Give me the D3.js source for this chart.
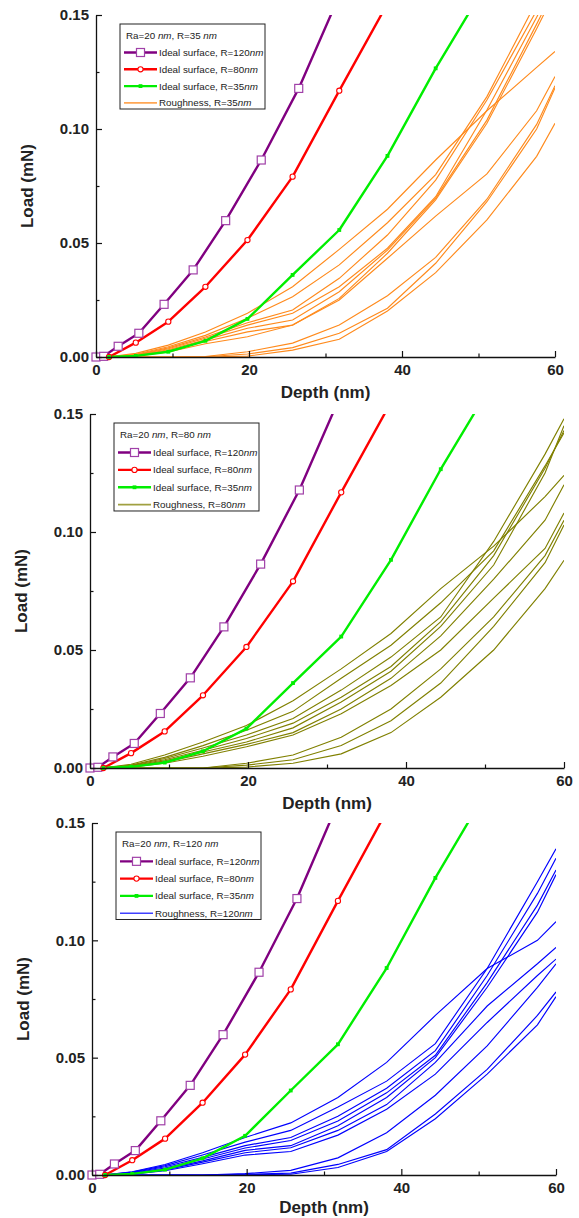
<!DOCTYPE html>
<html>
<head>
<meta charset="utf-8">
<script src="https://cdn.jsdelivr.net/npm/d3@7"></script>
<style>
  html, body { margin: 0; padding: 0; background: #fff; }
  svg { display: block; font-family: "Liberation Sans", Arial, sans-serif; }
</style>
</head>
<body>
<svg id="chart" width="579" height="1218"></svg>
<script>
// Ideal-surface load–depth curves (depth in nm, load in mN)
const depthR120 = [0, 1.0, 2.9, 5.6, 8.9, 12.7, 16.95, 21.6, 26.5, 32.0];
const loadR120  = [0, 0.0003, 0.0047, 0.0104, 0.0231, 0.0382, 0.0598, 0.0864, 0.1178, 0.1600];

const depthR80 = [1.7, 5.2, 9.45, 14.3, 19.8, 25.7, 31.8, 38.1];
const loadR80  = [0, 0.0063, 0.0155, 0.0308, 0.0513, 0.0791, 0.1168, 0.1550];

const depthR35 = [1.7, 5.2, 9.45, 14.3, 19.8, 25.7, 31.8, 38.1, 44.4, 51.1];
const loadR35  = [0, 0.0005, 0.0023, 0.0071, 0.0167, 0.0360, 0.0557, 0.0882, 0.1266, 0.1640];

// Rough-surface simulations share one depth grid
const depthRough = [1.5, 5.2, 9.45, 14.3, 19.8, 25.7, 31.8, 38.1, 44.4, 51.1, 57.6, 60];

const roughR35 = [
  [0, .0016, .0052, .0110, .0192, .0308, .0472, .0648, .0864, .1080, .1270, .1340],
  [0, .0012, .0045, .0095, .0170, .0264, .0404, .0589, .0800, .1142, .1560, .1720],
  [0, .0010, .0040, .0088, .0150, .0206, .0345, .0535, .0776, .1127, .1520, .1680],
  [0, .0008, .0036, .0082, .0140, .0192, .0308, .0477, .0703, .1083, .1490, .1650],
  [0, .0006, .0032, .0075, .0126, .0162, .0286, .0469, .0697, .1039, .1460, .1620],
  [0, .0005, .0028, .0068, .0110, .0140, .0257, .0455, .0689, .1025, .1440, .1600],
  [0, .0004, .0022, .0058, .0089, .0140, .0250, .0433, .0618, .0803, .1080, .1230],
  [0, 0, 0, .0002, .0023, .0061, .0140, .0269, .0437, .0692, .1020, .1190],
  [0, 0, 0, .0001, .0013, .0041, .0104, .0214, .0411, .0681, .1000, .1180],
  [0, 0, 0, 0, .0004, .0030, .0078, .0202, .0370, .0601, .0880, .1025]
];

const roughR80 = [
  [0, .0016, .0055, .0110, .0180, .0285, .0420, .0570, .0760, .0940, .1150, .1240],
  [0, .0012, .0045, .0095, .0160, .0240, .0380, .0520, .0700, .0920, .1280, .1420],
  [0, .0010, .0040, .0085, .0140, .0210, .0330, .0470, .0640, .0960, .1330, .1480],
  [0, .0008, .0035, .0075, .0125, .0190, .0300, .0430, .0620, .0900, .1270, .1430],
  [0, .0006, .0030, .0068, .0110, .0170, .0280, .0410, .0600, .0860, .1250, .1450],
  [0, .0005, .0025, .0060, .0100, .0150, .0250, .0380, .0560, .0800, .1050, .1200],
  [0, .0004, .0020, .0050, .0090, .0140, .0230, .0350, .0500, .0720, .0930, .1080],
  [0, 0, 0, 0, .0020, .0055, .0130, .0250, .0420, .0640, .0900, .1050],
  [0, 0, 0, 0, .0012, .0035, .0095, .0200, .0360, .0600, .0870, .1030],
  [0, 0, 0, 0, .0004, .0020, .0060, .0150, .0300, .0500, .0760, .0880]
];

const roughR120 = [
  [0, .0014, .0045, .0095, .0160, .0222, .0330, .0480, .0680, .0880, .1000, .1080],
  [0, .0012, .0040, .0085, .0140, .0190, .0290, .0400, .0560, .0880, .1250, .1390],
  [0, .0010, .0035, .0075, .0125, .0160, .0250, .0370, .0530, .0850, .1200, .1350],
  [0, .0008, .0030, .0068, .0115, .0147, .0230, .0350, .0510, .0820, .1150, .1300],
  [0, .0006, .0025, .0060, .0105, .0125, .0210, .0330, .0500, .0800, .1120, .1280],
  [0, .0005, .0022, .0055, .0095, .0116, .0190, .0300, .0480, .0720, .0900, .0970],
  [0, .0004, .0018, .0048, .0085, .0100, .0170, .0280, .0430, .0650, .0850, .0920],
  [0, 0, 0, 0, .0006, .0020, .0073, .0180, .0340, .0550, .0800, .0900],
  [0, 0, 0, 0, .0003, .0008, .0045, .0108, .0260, .0450, .0680, .0780],
  [0, 0, 0, 0, .0001, .0003, .0032, .0100, .0240, .0430, .0640, .0760]
];

const xTicks = [0, 20, 40, 60];
const xMinor = [10, 30, 50];
const yTicks = [0, 0.05, 0.10, 0.15];
const yMinor = [0.025, 0.075, 0.125];

const panels = [
  { R: "35",  rough: roughR35,  color: "#ff8a1c", left: 96, right: 555, top: 15,  bottom: 357, titleGap: 41 },
  { R: "80",  rough: roughR80,  color: "#808000", left: 90, right: 564, top: 414, bottom: 768, titleGap: 41 },
  { R: "120", rough: roughR120, color: "#0000ff", left: 92, right: 556, top: 823, bottom: 1175, titleGap: 38 }
];

const ideal = [
  { R: "120", depth: depthR120, load: loadR120, color: "#800080", marker: "bigSquare" },
  { R: "80",  depth: depthR80,  load: loadR80,  color: "#ff0000", marker: "circle" },
  { R: "35",  depth: depthR35,  load: loadR35,  color: "#00ee00", marker: "dot" }
];

const svg = d3.select("#chart");

function drawMarker(g, kind, cx, cy, color) {
  if (kind === "bigSquare") {
    g.append("rect").attr("x", cx - 4).attr("y", cy - 4).attr("width", 8).attr("height", 8)
      .attr("fill", "#fff").attr("stroke", "#a040a8").attr("stroke-width", 1.2);
  } else if (kind === "circle") {
    g.append("circle").attr("cx", cx).attr("cy", cy).attr("r", 2.6)
      .attr("fill", "#fff").attr("stroke", color).attr("stroke-width", 1.1);
  } else {
    g.append("rect").attr("x", cx - 1.9).attr("y", cy - 1.9).attr("width", 3.8).attr("height", 3.8)
      .attr("fill", color);
  }
}

panels.forEach((p, i) => {
  const x = d3.scaleLinear().domain([0, 60]).range([p.left, p.right]);
  const y = d3.scaleLinear().domain([0, 0.15]).range([p.bottom, p.top]);
  const g = svg.append("g");

  const clipId = "clip" + i;
  svg.append("clipPath").attr("id", clipId).append("rect")
    .attr("x", p.left - 8).attr("y", p.top)
    .attr("width", p.right - p.left + 8).attr("height", p.bottom - p.top + 8);

  const plot = g.append("g").attr("clip-path", `url(#${clipId})`);
  const line = d3.line().x(d => x(d[0])).y(d => y(d[1]));

  // rough-surface curves
  p.rough.forEach(vals => {
    plot.append("path")
      .datum(depthRough.map((d, k) => [d, vals[k]]))
      .attr("d", line).attr("fill", "none")
      .attr("stroke", p.color).attr("stroke-width", 1.15);
  });

  // ideal-surface curves with markers
  ideal.forEach(s => {
    const pts = s.depth.map((d, k) => [d, s.load[k]]);
    plot.append("path").datum(pts).attr("d", line).attr("fill", "none")
      .attr("stroke", s.color).attr("stroke-width", 2.4).attr("stroke-linejoin", "round");
    const mg = g.append("g");
    pts.filter(d => d[0] <= 60 && d[1] <= 0.15)
      .forEach(d => drawMarker(mg, s.marker, x(d[0]), y(d[1]), s.color));
  });

  // axes
  const axStyle = sel => {
    sel.select(".domain").attr("stroke", "#111").attr("stroke-width", 1.3);
    sel.selectAll(".tick line").attr("stroke", "#111").attr("stroke-width", 1.2);
    sel.selectAll("text").attr("font-size", 15).attr("font-weight", "bold").attr("fill", "#222");
  };
  g.append("g").attr("transform", `translate(0,${p.bottom})`)
    .call(d3.axisBottom(x).tickValues(xTicks).tickFormat(d3.format("d"))
      .tickSize(-6).tickSizeOuter(0).tickPadding(7))
    .call(axStyle);
  g.append("g").attr("transform", `translate(0,${p.bottom})`)
    .call(d3.axisBottom(x).tickValues(xMinor).tickFormat("").tickSize(-3.5).tickSizeOuter(0))
    .call(axStyle).select(".domain").remove();
  g.append("g").attr("transform", `translate(${p.left},0)`)
    .call(d3.axisLeft(y).tickValues(yTicks).tickFormat(d3.format(".2f"))
      .tickSize(-6).tickSizeOuter(0).tickPadding(7))
    .call(axStyle);
  g.append("g").attr("transform", `translate(${p.left},0)`)
    .call(d3.axisLeft(y).tickValues(yMinor).tickFormat("").tickSize(-3.5).tickSizeOuter(0))
    .call(axStyle).select(".domain").remove();
  g.selectAll(".tick text").attr("font-family", "'Liberation Sans', Arial, sans-serif");

  // axis titles
  g.append("text").attr("x", (p.left + p.right) / 2).attr("y", p.bottom + p.titleGap)
    .attr("text-anchor", "middle").attr("font-size", 17).attr("font-weight", "bold")
    .attr("fill", "#222").text("Depth (nm)");
  g.append("text")
    .attr("transform", `translate(${p.left - 63},${(p.top + p.bottom) / 2}) rotate(-90)`)
    .attr("text-anchor", "middle").attr("font-size", 17).attr("font-weight", "bold")
    .attr("fill", "#222").text("Load (mN)");

  // legend
  const sc = (p.bottom - p.top) / 342;
  const lx = p.left + 24, ly = p.top + 9;
  const lg = g.append("g");
  lg.append("rect").attr("x", lx).attr("y", ly).attr("width", 145).attr("height", 85 * sc)
    .attr("fill", "#fff").attr("stroke", "#222").attr("stroke-width", 1);
  const fs = 9.8;
  const title = lg.append("text").attr("x", lx + 6).attr("y", ly + 14.5 * sc)
    .attr("font-size", fs).attr("fill", "#222");
  title.append("tspan").text("Ra=20 ");
  title.append("tspan").attr("font-style", "italic").text("nm");
  title.append("tspan").text(", R=" + p.R + " ");
  title.append("tspan").attr("font-style", "italic").text("nm");

  const entries = ideal.map(s => ({ label: "Ideal surface, R=" + s.R, color: s.color, marker: s.marker, w: 2.4 }))
    .concat([{ label: "Roughness, R=" + p.R, color: p.color, marker: null, w: 1.6 }]);
  entries.forEach((e, k) => {
    const ey = ly + (28.5 + k * 16.8) * sc;
    lg.append("line").attr("x1", lx + 4).attr("x2", lx + 37).attr("y1", ey).attr("y2", ey)
      .attr("stroke", e.color).attr("stroke-width", e.w).attr("stroke-opacity", e.marker ? 1 : 0.75);
    if (e.marker) drawMarker(lg, e.marker, lx + 20.5, ey, e.color);
    const t = lg.append("text").attr("x", lx + 39).attr("y", ey + 3.5)
      .attr("font-size", fs).attr("fill", "#222");
    t.append("tspan").text(e.label);
    t.append("tspan").attr("font-style", "italic").text("nm");
  });
});
</script>
</body>
</html>
